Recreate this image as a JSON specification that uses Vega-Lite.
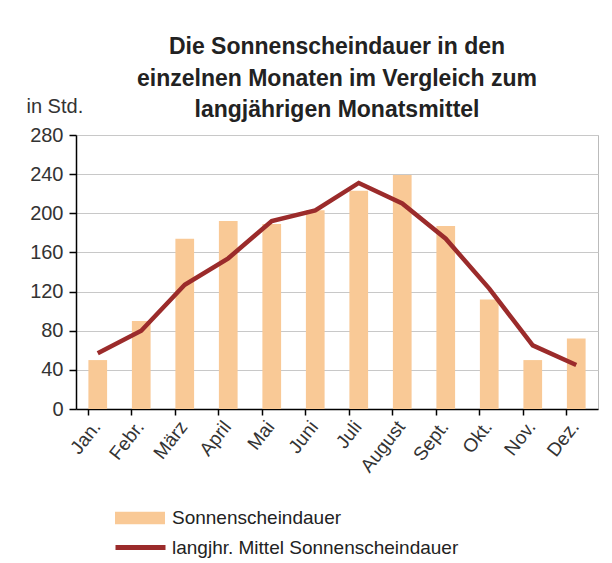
{
  "$schema": "https://vega.github.io/schema/vega-lite/v6.json",
  "width": 522,
  "height": 274,
  "autosize": {"type": "none"},
  "padding": {"left": 76, "top": 135, "right": 14, "bottom": 154},
  "background": "white",
  "title": {
    "text": ["Die Sonnenscheindauer in den", "einzelnen Monaten im Vergleich zum", "langjährigen Monatsmittel"],
    "fontSize": 23,
    "font": "Liberation Sans",
    "fontWeight": "bold",
    "color": "#222",
    "lineHeight": 31.5,
    "anchor": "middle",
    "frame": "group",
    "offset": -26
  },
  "data": {
    "values": [
      {"monat": "Jan.", "sonne": 50, "mittel": 57},
      {"monat": "Febr.", "sonne": 90, "mittel": 80},
      {"monat": "März", "sonne": 174, "mittel": 127},
      {"monat": "April", "sonne": 192, "mittel": 154},
      {"monat": "Mai", "sonne": 189, "mittel": 192},
      {"monat": "Juni", "sonne": 203, "mittel": 203},
      {"monat": "Juli", "sonne": 223, "mittel": 231},
      {"monat": "August", "sonne": 239, "mittel": 210},
      {"monat": "Sept.", "sonne": 187, "mittel": 174},
      {"monat": "Okt.", "sonne": 112, "mittel": 123},
      {"monat": "Nov.", "sonne": 50, "mittel": 65},
      {"monat": "Dez.", "sonne": 72, "mittel": 45}
    ]
  },
  "layer": [
    {
      "mark": {"type": "bar"},
      "encoding": {
        "x": {
          "field": "monat",
          "type": "nominal",
          "sort": null,
          "scale": {"paddingInner": 0.57, "paddingOuter": 0.285},
          "axis": {
            "title": null,
            "labelAngle": -52,
            "labelFontSize": 19,
            "labelColor": "#333",
            "bandPosition": 0,
            "labelOffset": -1,
            "tickSize": 6,
            "tickColor": "#000",
            "tickWidth": 1.5,
            "domainColor": "#000",
            "domainWidth": 1.5,
            "labelPadding": 8,
            "grid": false
          }
        },
        "y": {
          "field": "sonne",
          "type": "quantitative",
          "scale": {"domain": [0, 280], "nice": false},
          "axis": {
            "values": [0, 40, 80, 120, 160, 200, 240, 280],
            "tickCount": 8,
            "labelOverlap": false,
            "labelFontSize": 20,
            "labelColor": "#333",
            "domainColor": "#000",
            "domainWidth": 1.5,
            "tickColor": "#000",
            "tickWidth": 1.5,
            "tickSize": 7,
            "labelPadding": 6,
            "gridColor": "#c8c8c8",
            "title": "in Std.",
            "titleAngle": 0,
            "titleAlign": "left",
            "titleBaseline": "alphabetic",
            "titleX": -50,
            "titleY": -23,
            "titleFontSize": 20,
            "titleFontWeight": "normal",
            "titleColor": "#333"
          }
        },
        "fill": {
          "datum": "Sonnenscheindauer",
          "scale": {"range": ["#F9C996"]},
          "legend": {
            "orient": "none",
            "legendX": 39,
            "legendY": 358,
            "title": null,
            "symbolType": "M-1,-0.25H1V0.25H-1Z",
            "symbolSize": 2500,
            "symbolStrokeWidth": 0,
            "labelFontSize": 19,
            "labelColor": "#222",
            "labelOffset": 7,
            "labelLimit": 400
          }
        }
      }
    },
    {
      "mark": {"type": "line", "strokeWidth": 4.5},
      "encoding": {
        "x": {"field": "monat", "type": "nominal", "sort": null},
        "y": {
          "field": "mittel",
          "type": "quantitative",
          "axis": {
            "values": [0, 40, 80, 120, 160, 200, 240, 280],
            "tickCount": 8,
            "labelOverlap": false,
            "labelFontSize": 20,
            "labelColor": "#333",
            "domainColor": "#000",
            "domainWidth": 1.5,
            "tickColor": "#000",
            "tickWidth": 1.5,
            "tickSize": 7,
            "labelPadding": 6,
            "gridColor": "#c8c8c8",
            "title": "in Std.",
            "titleAngle": 0,
            "titleAlign": "left",
            "titleBaseline": "alphabetic",
            "titleX": -50,
            "titleY": -23,
            "titleFontSize": 20,
            "titleFontWeight": "normal",
            "titleColor": "#333"
          }
        },
        "stroke": {
          "datum": "langjhr. Mittel Sonnenscheindauer",
          "scale": {"range": ["#9B2B2B"]},
          "legend": {
            "orient": "none",
            "legendX": 37,
            "legendY": 385,
            "title": null,
            "symbolType": "stroke",
            "symbolSize": 2500,
            "symbolStrokeWidth": 5,
            "labelFontSize": 19,
            "labelColor": "#222",
            "labelOffset": 4,
            "labelLimit": 400
          }
        }
      }
    }
  ],
  "config": {
    "font": "Liberation Sans",
    "view": {"stroke": "#bbb"}
  }
}
